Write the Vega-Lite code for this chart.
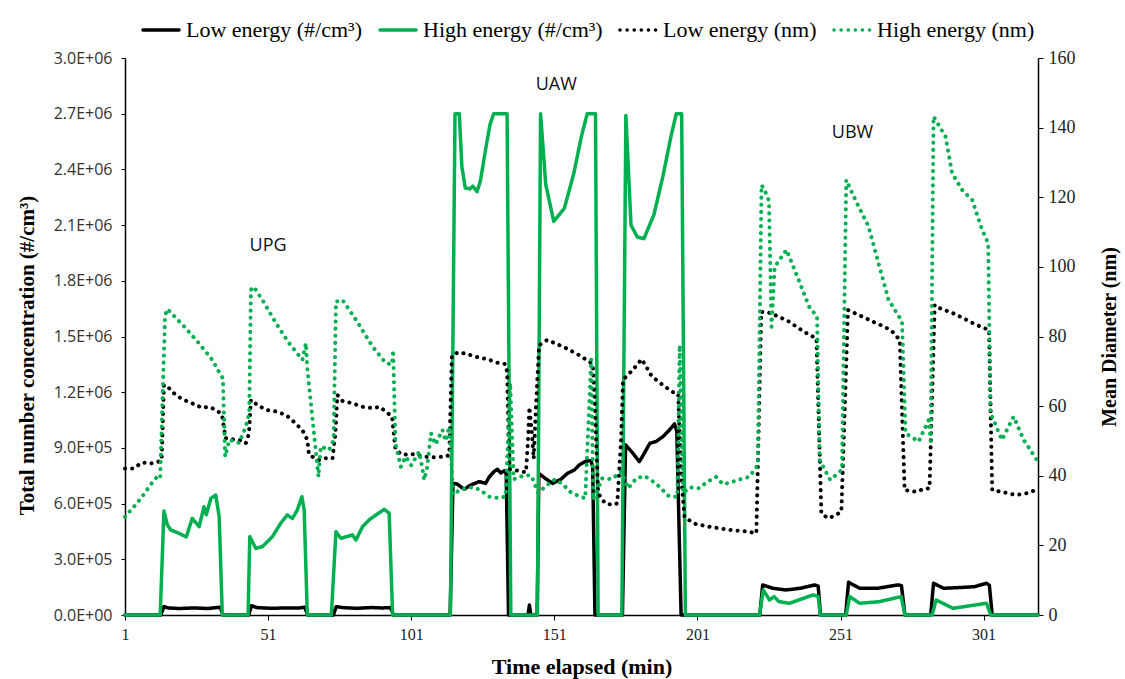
{
  "$schema": "https://vega.github.io/schema/vega-lite/v6.json",
  "autosize": {"type": "none"},
  "padding": {"left": 125, "top": 58, "right": 87, "bottom": 64},
  "width": 913,
  "height": 557,
  "background": "white",
  "datasets": {
    "A": [
      {"t":1,"v":0},{"t":13.5,"v":0},{"t":14.6,"v":45000},{"t":16,"v":38000},{"t":20,"v":35000},{"t":25,"v":38000},{"t":30,"v":35000},{"t":33,"v":40000},{"t":34.3,"v":42000},{"t":35.2,"v":0},
      {"t":44.2,"v":0},{"t":45.2,"v":50000},{"t":47,"v":40000},{"t":52,"v":36000},{"t":57,"v":38000},{"t":62,"v":38000},{"t":63.8,"v":42000},{"t":64.8,"v":0},
      {"t":73.8,"v":0},{"t":74.8,"v":45000},{"t":77,"v":40000},{"t":82,"v":36000},{"t":87,"v":40000},{"t":91,"v":38000},{"t":93.8,"v":40000},{"t":94.8,"v":0},
      {"t":114.6,"v":0},{"t":115.6,"v":709000},{"t":117,"v":706000},{"t":119.5,"v":677000},{"t":121.8,"v":700000},{"t":124.7,"v":718000},{"t":127,"v":709000},{"t":128.2,"v":742000},{"t":129.9,"v":772000},{"t":131.1,"v":785000},{"t":132.3,"v":765000},{"t":133.5,"v":777000},{"t":134.2,"v":760000},{"t":135,"v":0},
      {"t":141.8,"v":0},{"t":142.3,"v":54000},{"t":142.8,"v":0},{"t":145,"v":0},{"t":145.6,"v":763000},{"t":147.8,"v":736000},{"t":150.4,"v":709000},{"t":153.3,"v":731000},{"t":155.6,"v":763000},{"t":158,"v":781000},{"t":159.7,"v":808000},{"t":162.1,"v":829000},{"t":163.8,"v":831000},{"t":164.4,"v":800000},{"t":165.2,"v":0},
      {"t":174.8,"v":0},{"t":175.9,"v":916000},{"t":178.5,"v":870000},{"t":180.7,"v":826000},{"t":182.1,"v":862000},{"t":184.4,"v":925000},{"t":186.5,"v":934000},{"t":188.9,"v":960000},{"t":191.2,"v":996000},{"t":193,"v":1029000},{"t":193.8,"v":990000},{"t":195.3,"v":0},
      {"t":222.8,"v":0},{"t":223.8,"v":162000},{"t":227.3,"v":144000},{"t":232,"v":135000},{"t":237,"v":144000},{"t":242,"v":162000},{"t":243.2,"v":155000},{"t":244,"v":0},
      {"t":252.8,"v":0},{"t":253.8,"v":176000},{"t":257.7,"v":144000},{"t":264,"v":144000},{"t":271.1,"v":162000},{"t":272.3,"v":158000},{"t":273.5,"v":0},
      {"t":282.5,"v":0},{"t":283.5,"v":171000},{"t":287,"v":144000},{"t":293,"v":148000},{"t":298,"v":153000},{"t":302,"v":171000},{"t":303,"v":160000},{"t":304,"v":0},{"t":320,"v":0}
    ],
    "B": [
      {"t":1,"v":0},{"t":13.3,"v":0},{"t":14.6,"v":560000},{"t":15.8,"v":485000},{"t":17,"v":458000},{"t":19.9,"v":440000},{"t":22.4,"v":420000},{"t":24.5,"v":520000},{"t":26.9,"v":476000},{"t":28.6,"v":583000},{"t":29.4,"v":540000},{"t":31,"v":628000},{"t":32.7,"v":646000},{"t":33.9,"v":530000},{"t":35,"v":0},
      {"t":44,"v":0},{"t":44.6,"v":422000},{"t":46.7,"v":359000},{"t":49,"v":368000},{"t":52.5,"v":422000},{"t":55.4,"v":494000},{"t":57.7,"v":539000},{"t":59.5,"v":520000},{"t":61.2,"v":566000},{"t":62.8,"v":637000},{"t":63.6,"v":566000},{"t":64.7,"v":0},
      {"t":73.1,"v":0},{"t":74.7,"v":449000},{"t":76.4,"v":413000},{"t":80.5,"v":431000},{"t":81.7,"v":404000},{"t":84,"v":476000},{"t":86.3,"v":512000},{"t":88.7,"v":539000},{"t":91.6,"v":569000},{"t":93.3,"v":548000},{"t":94.5,"v":0},
      {"t":114.7,"v":0},{"t":116.3,"v":2700000},{"t":117.8,"v":2700000},{"t":118.7,"v":2415000},{"t":119.9,"v":2300000},{"t":121.5,"v":2295000},{"t":122.5,"v":2310000},{"t":124,"v":2280000},{"t":125.2,"v":2340000},{"t":126.8,"v":2490000},{"t":128.5,"v":2640000},{"t":129.8,"v":2700000},{"t":134.5,"v":2700000},{"t":135.8,"v":0},
      {"t":145.1,"v":0},{"t":146.2,"v":2700000},{"t":148,"v":2320000},{"t":150.8,"v":2120000},{"t":154.5,"v":2190000},{"t":157.8,"v":2378000},{"t":160.5,"v":2580000},{"t":162.5,"v":2700000},{"t":165.4,"v":2700000},{"t":166.3,"v":0},
      {"t":174.6,"v":0},{"t":176,"v":2690000},{"t":177.8,"v":2100000},{"t":180,"v":2036000},{"t":182.3,"v":2027000},{"t":185.8,"v":2156000},{"t":188.9,"v":2360000},{"t":191.8,"v":2580000},{"t":193.6,"v":2700000},{"t":195.5,"v":2700000},{"t":196.8,"v":0},
      {"t":222.7,"v":0},{"t":224,"v":135000},{"t":226.2,"v":81000},{"t":227.8,"v":99000},{"t":229.5,"v":72000},{"t":233.2,"v":63000},{"t":241.4,"v":108000},{"t":243.2,"v":100000},{"t":243.9,"v":0},
      {"t":253,"v":0},{"t":254.2,"v":99000},{"t":257.7,"v":63000},{"t":264.6,"v":72000},{"t":272.2,"v":99000},{"t":273.5,"v":0},
      {"t":283,"v":0},{"t":284.4,"v":81000},{"t":290.3,"v":36000},{"t":302,"v":63000},{"t":303.5,"v":0},{"t":320,"v":0}
    ],
    "C": [
      {"t":1,"v":42.1},{"t":4,"v":42.1},{"t":7,"v":43.8},{"t":10,"v":43.5},{"t":12.5,"v":44.0},{"t":13.8,"v":44.5},{"t":14.6,"v":66.1},{"t":16,"v":65.5},{"t":18.7,"v":63.2},{"t":21,"v":62},{"t":24.5,"v":60.8},{"t":28,"v":59.5},{"t":30,"v":59.8},{"t":31.5,"v":59.4},{"t":33.5,"v":58.5},{"t":34.9,"v":57.5},{"t":36.1,"v":50.8},{"t":38,"v":50.5},{"t":40.9,"v":50.3},{"t":43.2,"v":49.3},{"t":44.3,"v":52},
      {"t":45,"v":61.8},{"t":47,"v":60.5},{"t":50.2,"v":58.9},{"t":53.5,"v":58.5},{"t":57.2,"v":57.5},{"t":60,"v":55.5},{"t":63,"v":53.1},{"t":64.7,"v":50.3},{"t":65.3,"v":46},{"t":68.8,"v":44.5},{"t":71,"v":45},{"t":73.5,"v":45},{"t":74.5,"v":52},
      {"t":75.2,"v":63.2},{"t":77,"v":61.5},{"t":80.5,"v":60.8},{"t":84,"v":59.8},{"t":87.5,"v":59.4},{"t":90,"v":59.8},{"t":92.2,"v":58.4},{"t":94.3,"v":57},{"t":95.5,"v":47.4},{"t":98,"v":46},{"t":101,"v":46.3},{"t":105,"v":45.5},{"t":108.5,"v":45.3},{"t":113.1,"v":45.5},{"t":114.3,"v":46},
      {"t":115.2,"v":74.5},{"t":117.5,"v":75.5},{"t":120.4,"v":75},{"t":123.5,"v":74.2},{"t":127.6,"v":73.5},{"t":131,"v":72.5},{"t":133.8,"v":72.1},{"t":134.5,"v":70},{"t":135.3,"v":41.9},{"t":138,"v":41.5},{"t":141.1,"v":41},{"t":141.8,"v":50},{"t":142.3,"v":59.7},{"t":143.2,"v":52},{"t":143.8,"v":44.9},{"t":144.6,"v":60},
      {"t":145.7,"v":77.5},{"t":148.5,"v":79},{"t":152,"v":77.8},{"t":155.5,"v":76.5},{"t":160,"v":74.5},{"t":164.4,"v":72.1},{"t":165.2,"v":60},{"t":166.3,"v":35},{"t":168.7,"v":32.1},{"t":171.4,"v":31.6},{"t":173,"v":32.1},{"t":174.3,"v":50},
      {"t":175,"v":67.6},{"t":176.9,"v":69.1},{"t":179,"v":71},{"t":181.5,"v":73.5},{"t":183,"v":71.5},{"t":185,"v":68.6},{"t":187.5,"v":67},{"t":189.6,"v":65.6},{"t":193.1,"v":63.7},{"t":194.3,"v":63.5},{"t":195.3,"v":40},{"t":196.5,"v":28.1},{"t":198.5,"v":27},{"t":200.5,"v":26.1},{"t":206.3,"v":25.2},{"t":212.8,"v":24.4},{"t":218,"v":24},{"t":221.6,"v":23.5},
      {"t":223.3,"v":87.1},{"t":226.9,"v":86.7},{"t":229.7,"v":85.5},{"t":232,"v":84.8},{"t":237.3,"v":81.9},{"t":240,"v":80.5},{"t":242.6,"v":79.5},{"t":244.3,"v":29.2},{"t":246.6,"v":27.8},{"t":249,"v":28.5},{"t":251.3,"v":29.7},
      {"t":253.6,"v":87.6},{"t":256.5,"v":86.5},{"t":260,"v":85.2},{"t":263,"v":84},{"t":266.4,"v":82.8},{"t":269,"v":81.5},{"t":271.7,"v":79},{"t":273.4,"v":35.9},{"t":277.5,"v":35.4},{"t":280,"v":36.2},{"t":282.1,"v":36.4},
      {"t":283.9,"v":89.1},{"t":286,"v":88},{"t":290.3,"v":86.7},{"t":293.8,"v":85.3},{"t":297.3,"v":83.8},{"t":300,"v":82.8},{"t":302.9,"v":81.9},{"t":304,"v":35.9},{"t":308.9,"v":35.1},{"t":312,"v":34.5},{"t":315.3,"v":34.8},{"t":318,"v":35.5},{"t":320,"v":36.4}
    ],
    "D": [
      {"t":1,"v":28.2},{"t":4,"v":31},{"t":7,"v":34},{"t":10,"v":37.5},{"t":12.5,"v":40},{"t":13.3,"v":39.5},{"t":15,"v":86},{"t":15.8,"v":87.9},{"t":18,"v":86},{"t":22.2,"v":82.4},{"t":26.8,"v":78.1},{"t":31.5,"v":73.3},{"t":34.4,"v":69.0},{"t":35.2,"v":68},{"t":36,"v":45.5},{"t":37.4,"v":50.3},{"t":40.9,"v":49.4},{"t":43.2,"v":54.1},{"t":44.4,"v":58},
      {"t":45,"v":93.4},{"t":46,"v":94.3},{"t":49,"v":90.5},{"t":53.7,"v":83.9},{"t":58.3,"v":78.1},{"t":63,"v":73.3},{"t":64.2,"v":78.1},{"t":64.7,"v":70.9},{"t":68.6,"v":39.7},{"t":69.4,"v":48.4},{"t":72.3,"v":47.4},{"t":73.9,"v":50.3},
      {"t":74.7,"v":90},{"t":77,"v":90.5},{"t":81.7,"v":84.8},{"t":87.5,"v":77.1},{"t":92.2,"v":72.3},{"t":94.3,"v":72},{"t":94.7,"v":76.1},{"t":95.5,"v":49.3},{"t":97.4,"v":42.6},{"t":99.1,"v":45.5},{"t":101,"v":43},{"t":103.8,"v":46.9},{"t":105,"v":41.7},{"t":105.5,"v":38.8},{"t":106.5,"v":42},{"t":107.9,"v":52.2},{"t":109.5,"v":49},{"t":111.9,"v":53.2},{"t":113,"v":50},{"t":114.3,"v":54.1},
      {"t":115.7,"v":34.5},{"t":118,"v":36},{"t":122.2,"v":36.7},{"t":125,"v":36},{"t":128.2,"v":34},{"t":131.5,"v":33.6},{"t":134,"v":34},{"t":135.6,"v":66.6},{"t":136.8,"v":39},{"t":140.8,"v":40.2},{"t":143,"v":40},{"t":145.4,"v":35},{"t":147.8,"v":36.9},{"t":151.3,"v":39},{"t":154,"v":37.5},{"t":157.1,"v":35},{"t":161.8,"v":33.5},{"t":163.9,"v":73.5},{"t":164.6,"v":33.1},
      {"t":167.8,"v":39.3},{"t":171,"v":39},{"t":174.4,"v":41.2},{"t":176.8,"v":36.4},{"t":179.7,"v":39.3},{"t":182.6,"v":39.9},{"t":186.5,"v":37.8},{"t":191.2,"v":34},{"t":194,"v":34},{"t":194.8,"v":77.5},{"t":196,"v":35},{"t":198.3,"v":36.7},{"t":201.7,"v":36.4},{"t":204,"v":38},{"t":207.5,"v":39.7},{"t":210,"v":37.5},{"t":213.3,"v":38.3},{"t":216,"v":39},{"t":219.2,"v":39.7},{"t":222.1,"v":43.1},
      {"t":223.4,"v":123.5},{"t":224.5,"v":122},{"t":226,"v":119},{"t":226.9,"v":82.8},{"t":228,"v":100},{"t":229.7,"v":102},{"t":232.1,"v":104.9},{"t":236.4,"v":96.2},{"t":240,"v":88.6},{"t":242.8,"v":85.7},{"t":243.7,"v":44.5},{"t":247.4,"v":38.8},{"t":251.5,"v":41.7},
      {"t":253,"v":125},{"t":256.2,"v":119.2},{"t":260.8,"v":111.6},{"t":264.3,"v":101},{"t":267.8,"v":90.5},{"t":272.5,"v":84.3},{"t":273.7,"v":52.2},{"t":278.3,"v":49.8},{"t":281.8,"v":56},{"t":282.5,"v":50},
      {"t":283.5,"v":143.2},{"t":287.7,"v":137.4},{"t":290,"v":126.9},{"t":293.5,"v":122.1},{"t":297,"v":119.2},{"t":300.5,"v":110.6},{"t":302.6,"v":106.8},{"t":303.4,"v":58},{"t":307.4,"v":50.3},{"t":311.5,"v":57},{"t":315,"v":50.3},{"t":319.6,"v":44.5}
    ],
    "ann": [
      {"t":51,"v":1990000,"label":"UPG"},
      {"t":151.7,"v":2855000,"label":"UAW"},
      {"t":255.2,"v":2596000,"label":"UBW"}
    ]
  },
  "layer": [
    {
      "encoding": {
        "x": {"field":"t","type":"quantitative","scale":{"domain":[1,320],"nice":false,"zero":false},
              "axis":{"values":[1,51,101,151,201,251,301],"title":"Time elapsed (min)","grid":false,"labelFlush":false,"labelOverlap":false,
                      "labelFont":"Liberation Serif","labelFontSize":16,"labelColor":"#222","labelPadding":6,
                      "tickSize":5,"tickColor":"#000","domainColor":"#000","domainWidth":1.5,
                      "titleFont":"Liberation Serif","titleFontSize":22,"titleFontWeight":"bold","titleColor":"#000","titlePadding":14}},
        "y": {"field":"v","type":"quantitative","scale":{"domain":[0,3000000],"nice":false},
              "axis":{"orient":"left","values":[0,300000,600000,900000,1200000,1500000,1800000,2100000,2400000,2700000,3000000],
                      "labelExpr":"datum.value == 0 ? '0.0E+00' : format(datum.value / pow(10, floor(log(datum.value) / LN10 + 1e-9)), '.1f') + 'E+0' + floor(log(datum.value) / LN10 + 1e-9)",
                      "title":"Total number concentration (#/cm³)","grid":false,"labelFlush":false,"labelOverlap":false,
                      "labelFont":"Open Sans","labelFontSize":16,"labelColor":"#333","labelPadding":9,
                      "tickSize":4,"tickColor":"#000","domainColor":"#000","domainWidth":1.5,
                      "titleFont":"Liberation Serif","titleFontSize":21,"titleFontWeight":"bold","titleColor":"#000","titlePadding":16,"titleY":297}}
      },
      "layer": [
        {
          "data": {"name": "A"},
          "mark": {"type":"line","strokeWidth":3.5,"strokeCap":"round","strokeJoin":"round"},
          "encoding": {
            "color": {"datum":"Low energy (#/cm³)","type":"nominal",
                      "scale":{"domain":["Low energy (#/cm³)","High energy (#/cm³)","Low energy (nm)","High energy (nm)"],"range":["#000000","#00B050","#000000","#00B050"]},
                      "legend":{"title":null,"encode":{"symbols":{"update":{"strokeCap":{"value":"round"}}}}}},
            "strokeDash": {"datum":"Low energy (#/cm³)","type":"nominal",
                      "scale":{"domain":["Low energy (#/cm³)","High energy (#/cm³)","Low energy (nm)","High energy (nm)"],"range":[[1,0],[1,0],[0.1,7],[0.1,7]]},
                      "legend":{"title":null,"encode":{"symbols":{"update":{"strokeCap":{"value":"round"}}}}}}
          }
        },
        {
          "data": {"name": "B"},
          "mark": {"type":"line","strokeWidth":3.5,"strokeCap":"round","strokeJoin":"round"},
          "encoding": {
            "color": {"datum":"High energy (#/cm³)","type":"nominal"},
            "strokeDash": {"datum":"High energy (#/cm³)","type":"nominal"}
          }
        },
        {
          "data": {"name": "ann"},
          "mark": {"type":"text","font":"Open Sans","fontSize":18,"color":"#111","align":"center","baseline":"middle"},
          "encoding": {"text": {"field":"label","type":"nominal"}}
        }
      ]
    },
    {
      "encoding": {
        "x": {"field":"t","type":"quantitative","scale":{"domain":[1,320],"nice":false,"zero":false},
              "axis":{"values":[1,51,101,151,201,251,301],"title":"Time elapsed (min)","grid":false,"labelFlush":false,"labelOverlap":false,
                      "labelFont":"Liberation Serif","labelFontSize":16,"labelColor":"#222","labelPadding":6,
                      "tickSize":5,"tickColor":"#000","domainColor":"#000","domainWidth":1.5,
                      "titleFont":"Liberation Serif","titleFontSize":22,"titleFontWeight":"bold","titleColor":"#000","titlePadding":14}},
        "y": {"field":"v","type":"quantitative","scale":{"domain":[0,160],"nice":false},
              "axis":{"orient":"right","values":[0,20,40,60,80,100,120,140,160],"title":"Mean Diameter (nm)","grid":false,"labelFlush":false,"labelOverlap":false,
                      "labelFont":"Liberation Serif","labelFontSize":18,"labelColor":"#222","labelPadding":5,
                      "tickSize":5,"tickColor":"#000","domainColor":"#000","domainWidth":1.5,
                      "titleFont":"Liberation Serif","titleFontSize":20,"titleFontWeight":"bold","titleColor":"#000","titlePadding":44,
                      "titleAngle":270,"titleBaseline":"bottom"}}
      },
      "layer": [
        {
          "data": {"name": "C"},
          "mark": {"type":"line","strokeWidth":4,"strokeCap":"round","strokeJoin":"round"},
          "encoding": {
            "color": {"datum":"Low energy (nm)","type":"nominal"},
            "strokeDash": {"datum":"Low energy (nm)","type":"nominal"}
          }
        },
        {
          "data": {"name": "D"},
          "mark": {"type":"line","strokeWidth":4,"strokeCap":"round","strokeJoin":"round"},
          "encoding": {
            "color": {"datum":"High energy (nm)","type":"nominal"},
            "strokeDash": {"datum":"High energy (nm)","type":"nominal"}
          }
        }
      ]
    }
  ],
  "resolve": {"scale": {"y": "independent"}},
  "config": {
    "view": {"stroke": null},
    "legend": {
      "orient": "none", "legendX": 16, "legendY": -48, "direction": "horizontal",
      "labelFont": "Liberation Serif", "labelFontSize": 22, "labelColor": "#000", "labelLimit": 400,
      "symbolType": "stroke", "symbolSize": 1300, "symbolStrokeWidth": 3.5, "labelOffset": 5, "columnPadding": 9
    }
  }
}
